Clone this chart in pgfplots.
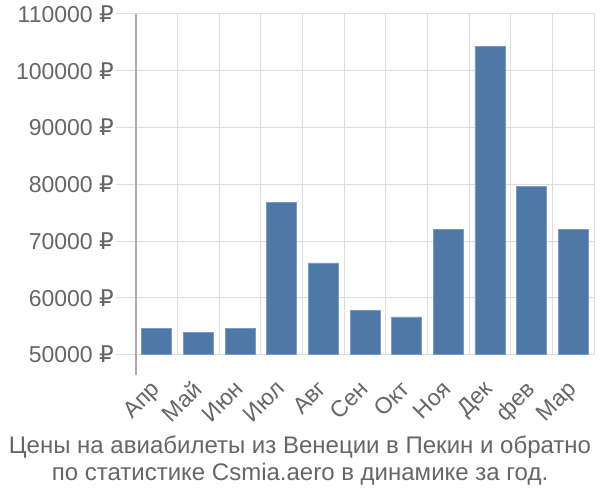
\documentclass[border=0pt]{standalone}
\usepackage{pgfplots}
\pgfplotsset{compat=1.18}
\usepackage{fontspec}
\setmainfont{Liberation Sans}
\newfontfamily\rub{DejaVu Sans}
\newcommand{\R}{{\rub ₽}}
\definecolor{txt}{HTML}{666666}
\definecolor{gridc}{HTML}{DDDDDD}
\definecolor{axc}{HTML}{AAAAAA}
\definecolor{barc}{HTML}{4E79A7}
\definecolor{barb}{HTML}{7A9CC4}
\begin{document}
\begin{tikzpicture}
\path[use as bounding box] (0,0) rectangle (600bp,500bp);
\begin{axis}[
  at={(136bp,145.3bp)}, anchor=south west,
  scale only axis, width=458bp, height=340.7bp,
  xmin=-0.5, xmax=10.5, ymin=50000, ymax=110000,
  scaled y ticks=false,
  clip=false,
  axis line style={draw=none},
  tick align=outside,
  major tick length=20bp, minor tick length=20bp,
  xtick pos=bottom, ytick pos=left,
  xtick={0,...,10},
  xticklabels={Апр,Май,Июн,Июл,Авг,Сен,Окт,Ноя,Дек,фев,Мар},
  minor xtick={-0.5,0.5,...,10.5},
  xmajorgrids=false, xminorgrids=true, ymajorgrids=true,
  grid style={gridc, line width=1bp},
  minor grid style={gridc, line width=1bp},
  xtick style={draw=none},
  minor tick style={gridc, line width=1bp},
  ytick style={gridc, line width=1bp},
  ytick={50000,60000,70000,80000,90000,100000,110000},
  yticklabels={50000 \R,60000 \R,70000 \R,80000 \R,90000 \R,100000 \R,110000 \R},
  yticklabel style={font=\fontsize{23bp}{26bp}\selectfont, text=txt, inner sep=2bp},
  xticklabel style={font=\fontsize{23bp}{26bp}\selectfont, text=txt, rotate=45, anchor=north east, inner sep=0bp, xshift=-8bp, yshift=2bp},
  ybar, bar width=30bp,
]
\addplot[fill=barc, draw=barb, line width=0.8bp] coordinates {
(0,54700) (1,53950) (2,54700) (3,76770) (4,66150) (5,57870)
(6,56640) (7,72080) (8,104310) (9,79580) (10,72080)};
\draw[axc, line width=1.2bp] (rel axis cs:0,1) -- ([yshift=-20bp]rel axis cs:0,0);
\end{axis}
\node[text=txt, align=center, font=\fontsize{24bp}{27bp}\selectfont] at (300bp,39bp)
  {Цены на авиабилеты из Венеции в Пекин и обратно\\по статистике Csmia.aero в динамике за год.};
\end{tikzpicture}
\end{document}
